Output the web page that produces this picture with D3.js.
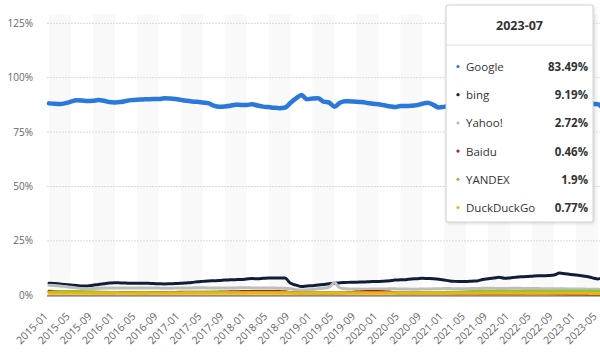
<!DOCTYPE html>
<html><head><meta charset="utf-8">
<script src="https://cdn.jsdelivr.net/npm/d3@7"></script>
<style>html,body{margin:0;padding:0;background:#fff;}svg{display:block;font-family:"Open Sans",sans-serif;}</style>
</head><body><div id="chart"></div>
<script>
// monthly data 2015-01 .. 2023-07
const tickLabels = ["2015-01","2015-05","2015-09","2016-01","2016-05","2016-09","2017-01","2017-05","2017-09","2018-01","2018-05","2018-09","2019-01","2019-05","2019-09","2020-01","2020-05","2020-09","2021-01","2021-05","2021-09","2022-01","2022-05","2022-09","2023-01","2023-05"];
const yTicks = [0,25,50,75,100,125];
const seriesNames = ["Google","bing","Yahoo!","Baidu","YANDEX","DuckDuckGo"];
const tooltipMonth = "2023-07";
const tooltipValues = ["83.49%","9.19%","2.72%","0.46%","1.9%","0.77%"];

const google = [88.2,88.0,87.9,88.3,89.0,89.6,89.5,89.3,89.4,89.7,
 89.4,88.8,88.6,88.8,89.3,89.7,89.9,90.0,90.1,90.2,
 90.2,90.5,90.4,90.2,89.8,89.4,89.1,88.9,88.6,88.3,
 87.2,86.7,86.8,87.1,87.6,87.5,87.4,87.8,87.2,86.7,
 86.5,86.2,86.0,86.3,88.5,90.5,92.0,90.1,90.4,90.5,
 89.0,88.6,86.7,88.5,89.2,89.1,89.0,88.8,88.4,88.0,
 87.8,87.3,86.9,86.5,87.0,87.0,87.1,87.4,88.0,88.5,
 87.5,86.3,86.6,87.0,87.4,87.2,86.8,87.5,88.0,87.6,
 87.1,86.9,87.3,87.7,87.4,87.0,86.6,86.9,87.2,87.8,
 88.3,88.0,87.5,87.1,86.8,87.2,87.6,87.9,88.1,87.9,
 87.8,85.6,83.49];
const bing = [5.5,5.4,5.2,5.0,4.7,4.5,4.3,4.3,4.6,5.0,
 5.3,5.6,5.8,5.7,5.6,5.5,5.5,5.5,5.5,5.4,
 5.3,5.2,5.3,5.4,5.5,5.7,5.9,6.2,6.4,6.6,
 6.7,6.8,7.0,7.1,7.2,7.3,7.5,7.7,7.6,7.8,
 8.0,8.0,8.0,7.9,5.5,4.7,4.0,4.3,4.4,4.7,
 5.0,5.3,5.5,5.8,5.9,6.0,6.0,6.1,6.2,6.3,
 6.3,6.5,6.7,7.0,7.1,7.2,7.5,7.6,7.8,7.7,
 7.6,7.4,7.0,6.6,6.4,6.3,6.3,6.5,6.6,7.3,
 7.6,7.9,8.3,7.8,8.0,8.3,8.5,8.6,8.8,9.0,
 9.0,9.1,9.3,10.2,9.9,9.6,9.3,9.0,8.6,8.0,
 7.5,8.4,9.19];
const yahoo = [4.6,4.5,4.3,4.0,3.7,3.4,3.1,3.0,3.1,3.2,
 3.3,3.4,3.4,3.4,3.3,3.3,3.3,3.4,3.4,3.3,
 3.3,3.2,3.2,3.3,3.3,3.4,3.4,3.5,3.5,3.4,
 3.4,3.3,3.3,3.4,3.4,3.5,3.5,3.4,3.4,3.3,
 3.3,3.3,3.2,3.2,3.0,2.6,2.4,2.5,2.7,3.0,
 3.3,3.8,5.8,3.4,3.0,2.9,2.9,2.8,2.8,2.9,
 2.9,2.9,3.0,3.0,2.9,2.9,2.8,2.8,2.9,2.9,
 3.0,3.0,3.1,3.1,3.0,3.0,3.0,3.1,3.1,3.2,
 3.2,3.2,3.1,3.1,3.2,3.2,3.2,3.1,3.1,3.1,
 3.0,3.0,3.0,3.0,3.0,2.9,2.9,2.9,2.8,2.8,
 2.8,2.8,2.72];
const baidu = [1.9,1.8,1.5,1.4,1.4,1.3,1.3,1.3,1.2,1.2,
 1.2,1.2,1.2,1.3,1.3,1.3,1.2,1.2,1.2,1.3,
 1.3,1.3,1.3,1.3,1.4,1.4,1.4,1.4,1.4,1.4,
 1.4,1.5,1.5,1.6,1.6,1.7,1.7,1.7,1.7,1.8,
 1.8,1.8,1.7,1.6,1.3,1.2,1.1,1.1,1.1,1.1,
 1.1,1.1,1.1,1.1,1.2,1.3,1.5,1.6,1.7,1.7,
 1.7,1.6,1.5,1.2,1.1,1.1,1.0,1.0,1.0,1.0,
 1.0,1.0,1.0,1.0,0.9,0.9,0.9,0.9,0.9,0.8,
 0.8,0.8,0.8,0.8,0.8,0.8,0.8,0.9,0.9,0.9,
 0.9,0.9,0.8,0.7,0.7,0.6,0.6,0.6,0.5,0.5,
 0.5,0.5,0.46];
const yandex = [1.4,1.6,1.7,1.8,1.8,1.7,1.7,1.6,1.6,1.5,
 1.4,1.3,1.3,1.2,1.2,1.2,1.2,1.2,1.2,1.2,
 1.2,1.2,1.2,1.2,1.2,1.3,1.3,1.3,1.3,1.4,
 1.5,1.4,1.3,1.3,1.3,1.3,1.3,1.3,1.3,1.3,
 1.3,1.3,1.3,1.3,1.2,1.2,1.2,1.2,1.2,1.2,
 1.2,1.2,1.2,1.2,1.2,1.2,1.2,1.2,1.2,1.2,
 1.2,1.2,1.2,1.2,1.2,1.2,1.2,1.2,1.2,1.3,
 1.3,1.3,1.3,1.4,1.4,1.5,1.6,1.7,1.8,1.9,
 1.9,1.9,1.9,1.9,1.9,1.9,1.9,1.9,1.9,1.9,
 1.9,1.9,1.9,1.9,1.9,1.9,1.9,1.9,1.9,1.9,
 1.9,1.9,1.9];
const duckduckgo = [0.9,0.9,0.9,0.9,0.9,0.9,0.9,0.9,0.9,0.9,
 0.9,0.9,0.9,0.9,0.9,0.9,0.9,0.9,0.9,0.9,
 0.9,0.9,0.9,0.9,0.9,0.9,0.9,0.9,0.9,0.9,
 0.9,0.9,0.9,0.9,0.9,0.9,0.9,0.9,0.9,0.9,
 0.9,0.9,0.9,0.9,0.9,0.9,0.9,0.9,0.9,0.9,
 0.9,0.9,0.9,0.9,0.9,0.9,0.9,0.9,0.9,0.9,
 0.9,0.9,0.9,0.9,0.9,0.9,0.9,0.9,0.9,0.9,
 0.9,0.9,0.9,0.9,0.9,0.9,0.9,0.9,0.9,0.9,
 0.9,0.9,0.9,0.9,0.9,0.9,0.9,0.9,0.9,0.9,
 0.9,0.9,0.9,0.9,0.9,0.9,0.9,0.9,0.9,0.8,
 0.8,0.8,0.77];

const seriesData = [google, bing, yahoo, baidu, yandex, duckduckgo];
const colors = ["#2a78dc","#0f1f38","#bdbdbd","#b31c1c","#8cc63e","#f3b300"];
const widths = [4.5,3,3,3,3,3];

const W = 600, H = 355;
const svg = d3.select("#chart").append("svg").attr("width", W).attr("height", H);
svg.append("rect").attr("width", W).attr("height", H).attr("fill", "#fff");

const x = d3.scaleLinear().domain([0, 100]).range([49, 598]);
const y = d3.scaleLinear().domain([0, 125]).range([295.3, 23.3]);

// alternating bands
const bandG = svg.append("g");
tickLabels.forEach((t, k) => {
  if (k % 2 === 0 && k < tickLabels.length - 1) {
    bandG.append("rect").attr("x", x(k*4)).attr("y", 14)
      .attr("width", x(k*4+4) - x(k*4)).attr("height", y(0) - 14)
      .attr("fill", "#f9f9f9");
  }
});

// gridlines
svg.append("g").selectAll("line").data(yTicks.filter(d => d > 0)).join("line")
  .attr("x1", 47).attr("x2", W).attr("y1", d => y(d)).attr("y2", d => y(d))
  .attr("stroke", "#d9d9d9").attr("stroke-width", 1).attr("stroke-dasharray", "2,1");

// y labels
svg.append("g").selectAll("text").data(yTicks).join("text")
  .attr("x", 33).attr("y", d => y(d) + 3.5).attr("text-anchor", "end")
  .attr("font-size", 10).attr("fill", "#666").text(d => d + "%");

// x labels
svg.append("g").selectAll("text").data(tickLabels).join("text")
  .attr("transform", (d, k) => `translate(${x(k*4) - 0.5},${317}) rotate(-45)`)
  .attr("text-anchor", "end").attr("font-size", 10.5).attr("fill", "#666").text(d => d);

// lines
svg.append("clipPath").attr("id", "clip").append("rect")
  .attr("x", 0).attr("y", 0).attr("width", W).attr("height", 296);
const lineG = svg.append("g").attr("clip-path", "url(#clip)");
const line = d3.line().x((d, i) => x(i)).y(d => y(d)).curve(d3.curveMonotoneX);
seriesData.forEach((s, i) => {
  lineG.append("path").datum(s).attr("d", line).attr("fill", "none")
    .attr("stroke", colors[i]).attr("stroke-width", widths[i])
    .attr("stroke-linejoin", "round").attr("stroke-linecap", "round");
});

// axis line
svg.append("line").attr("x1", 47).attr("x2", W).attr("y1", y(0) + 0.5).attr("y2", y(0) + 0.5)
  .attr("stroke", "#666").attr("stroke-width", 1.2);

// tooltip
const defs = svg.append("defs");
const f = defs.append("filter").attr("id", "sh").attr("x", "-10%").attr("y", "-10%").attr("width", "130%").attr("height", "130%");
f.append("feDropShadow").attr("dx", 1).attr("dy", 1).attr("stdDeviation", 1.5).attr("flood-color", "#000").attr("flood-opacity", 0.15);
const tt = svg.append("g");
tt.append("rect").attr("x", 446).attr("y", 5).attr("width", 147).attr("height", 217)
  .attr("rx", 2).attr("fill", "#fff").attr("stroke", "#d0d0d0").attr("filter", "url(#sh)");
tt.append("text").attr("x", 519.5).attr("y", 29.5).attr("text-anchor", "middle")
  .attr("font-size", 12.5).attr("font-weight", "bold").attr("fill", "#333").text(tooltipMonth);
tt.append("line").attr("x1", 446).attr("x2", 593).attr("y1", 45).attr("y2", 45).attr("stroke", "#e2e2e2");
seriesNames.forEach((n, i) => {
  const yy = 67 + i * 28.2;
  tt.append("circle").attr("cx", 458).attr("cy", yy - 0.5).attr("r", 1.6).attr("fill", colors[i]);
  tt.append("text").attr("x", 466).attr("y", yy + 4).attr("font-size", 11.5).attr("fill", "#333").text(n);
  tt.append("text").attr("x", 588).attr("y", yy + 4).attr("text-anchor", "end")
    .attr("font-size", 11.5).attr("font-weight", "bold").attr("fill", "#333").text(tooltipValues[i]);
});
</script></body></html>
